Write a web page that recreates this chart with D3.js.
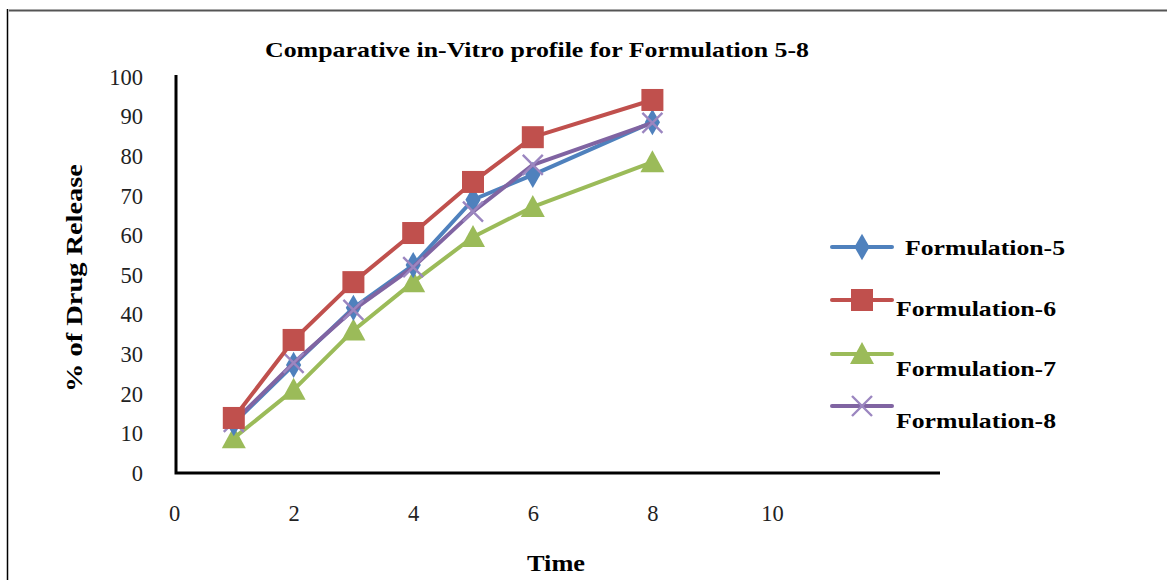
<!DOCTYPE html>
<html><head><meta charset="utf-8">
<script src="https://cdn.jsdelivr.net/npm/d3@7"></script>
<style>body{margin:0;background:#fff}svg{display:block}</style>
</head><body>
<script>
const times = [1, 2, 3, 4, 5, 6, 8];
const seriesNames = ["Formulation-5", "Formulation-6", "Formulation-7", "Formulation-8"];
const f5 = [12.6, 27.3, 41.7, 52.5, 69.0, 75.3, 88.6];
const f6 = [13.9, 33.6, 48.2, 60.6, 73.5, 84.8, 94.2];
const f7 = [8.8, 21.0, 36.0, 48.2, 59.6, 67.2, 78.5];
const f8 = [12.9, 27.8, 41.2, 52.0, 66.0, 77.8, 88.4];
const xTicks = [0, 2, 4, 6, 8, 10];
const yTicks = [0, 10, 20, 30, 40, 50, 60, 70, 80, 90, 100];
const colors = ["#4F81BD", "#C0504D", "#9BBB59", "#8064A2"];
const markers = ["diamond", "square", "triangle", "cross"];
const allSeries = [f5, f6, f7, f8];

const W = 1167, H = 580;
const svg = d3.select("body").append("svg").attr("width", W).attr("height", H);
const serif = "'Liberation Serif','Times New Roman',serif";

// frame lines
svg.append("line").attr("x1", 9).attr("x2", W).attr("y1", 10.5).attr("y2", 10.5).attr("stroke", "#555").attr("stroke-width", 2);
svg.append("line").attr("x1", 7.5).attr("x2", 7.5).attr("y1", 9).attr("y2", H).attr("stroke", "#000").attr("stroke-width", 1.5);

const x = d3.scaleLinear().domain([0, 10]).range([174, 772]);
const y = d3.scaleLinear().domain([0, 100]).range([473, 77]);

// title
svg.append("text").attr("x", 537).attr("y", 57).attr("text-anchor", "middle")
  .attr("font-family", serif).attr("font-weight", "bold").attr("font-size", 21)
  .attr("textLength", 544).attr("lengthAdjust", "spacingAndGlyphs")
  .text("Comparative in-Vitro profile for Formulation 5-8");

// axes ticks
const yAx = svg.append("g").attr("transform", "translate(143,0)")
  .call(d3.axisLeft(y).tickValues(yTicks).tickSize(0).tickPadding(0));
yAx.select(".domain").remove();
yAx.selectAll("text").attr("font-family", serif).attr("font-size", 22.5).attr("fill", "#222");

const xAx = svg.append("g").attr("transform", "translate(0,505)")
  .call(d3.axisBottom(x).tickValues(xTicks).tickSize(0).tickPadding(0));
xAx.select(".domain").remove();
xAx.selectAll("text").attr("font-family", serif).attr("font-size", 22.5).attr("fill", "#222");

// axis lines
svg.append("path").attr("d", `M${x(0) + 2},${y(100) - 2}V${y(0)}H940`)
  .attr("fill", "none").attr("stroke", "#000").attr("stroke-width", 3);

// axis titles
svg.append("text").attr("transform", "translate(82,278) rotate(-90)").attr("text-anchor", "middle")
  .attr("font-family", serif).attr("font-weight", "bold").attr("font-size", 23)
  .attr("textLength", 228).attr("lengthAdjust", "spacingAndGlyphs").text("% of Drug Release");
svg.append("text").attr("x", 556).attr("y", 571).attr("text-anchor", "middle")
  .attr("font-family", serif).attr("font-weight", "bold").attr("font-size", 23)
  .attr("textLength", 58).attr("lengthAdjust", "spacingAndGlyphs").text("Time");

function drawMarker(g, type, cx, cy, color) {
  if (type === "diamond") {
    g.append("path").attr("d", d3.symbol(d3.symbolDiamond, 200)()).attr("transform", `translate(${cx},${cy})`).attr("fill", color);
  } else if (type === "square") {
    g.append("rect").attr("x", cx - 11).attr("y", cy - 11).attr("width", 22).attr("height", 22).attr("fill", color);
  } else if (type === "triangle") {
    g.append("path").attr("d", `M${cx},${cy - 12}L${cx + 12},${cy + 10}L${cx - 12},${cy + 10}Z`).attr("fill", color);
  } else {
    g.append("path").attr("d", `M${cx - 10},${cy - 10}L${cx + 10},${cy + 10}M${cx - 10},${cy + 10}L${cx + 10},${cy - 10}`)
      .attr("stroke", "#9b86c0").attr("stroke-width", 2.4).attr("fill", "none");
  }
}

const line = d3.line().x(d => x(d[0])).y(d => y(d[1]));
const order = [2, 0, 3, 1];
order.forEach(i => {
  const pts = times.map((t, k) => [t, allSeries[i][k]]);
  const g = svg.append("g");
  g.append("path").attr("d", line(pts)).attr("fill", "none").attr("stroke", colors[i]).attr("stroke-width", 4).attr("stroke-linejoin", "round");
  pts.forEach(p => drawMarker(g, markers[i], x(p[0]), y(p[1]), colors[i]));
});

// legend
const legY = [247, 300, 354, 406];
const legTextY = [255, 316, 376, 428];
const legTextX = [905, 896, 896, 896];
seriesNames.forEach((n, i) => {
  const g = svg.append("g");
  g.append("line").attr("x1", 832).attr("x2", 892).attr("y1", legY[i]).attr("y2", legY[i])
    .attr("stroke", colors[i]).attr("stroke-width", 4).attr("stroke-linecap", "round");
  drawMarker(g, markers[i], 862, legY[i], colors[i]);
  g.append("text").attr("x", legTextX[i]).attr("y", legTextY[i]).attr("font-family", serif)
    .attr("font-weight", "bold").attr("font-size", 22)
    .attr("textLength", 160).attr("lengthAdjust", "spacingAndGlyphs").text(n);
});
</script>
</body></html>
